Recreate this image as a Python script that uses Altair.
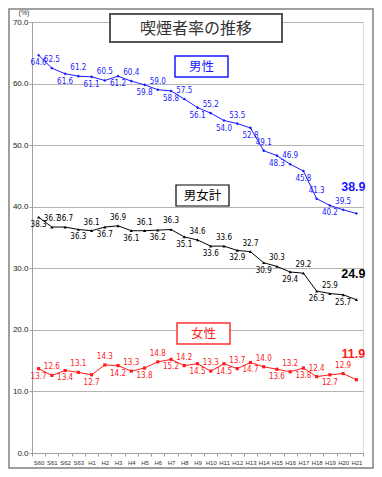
import altair as alt
import pandas as pd

years = ["S60", "S61", "S62", "S63"] + [f"H{i}" for i in range(1, 22)]
male = [64.6, 62.5, 61.6, 61.2, 61.1, 60.5, 61.2, 60.4, 59.8, 59.0, 58.8, 57.5, 56.1,
        55.2, 54.0, 53.5, 52.8, 49.1, 48.3, 46.9, 45.8, 41.3, 40.2, 39.5, 38.9]
total = [38.3, 36.7, 36.7, 36.3, 36.1, 36.7, 36.9, 36.1, 36.1, 36.2, 36.3, 35.1, 34.6,
         33.6, 33.6, 32.9, 32.7, 30.9, 30.3, 29.4, 29.2, 26.3, 25.9, 25.7, 24.9]
female = [13.7, 12.6, 13.4, 13.1, 12.7, 14.3, 14.2, 13.3, 13.8, 14.8, 15.2, 14.2, 14.5,
          13.3, 14.5, 13.7, 14.7, 14.0, 13.6, 13.2, 13.8, 12.4, 12.7, 12.9, 11.9]
series_names = ["男性", "男女計", "女性"]
series_colors = ["#1a1aff", "#000000", "#ff1a1a"]
y_ticks = [0, 10, 20, 30, 40, 50, 60, 70]

rows = []
last = len(years) - 1
for name, vals in zip(series_names, [male, total, female]):
    for i, (yr, v) in enumerate(zip(years, vals)):
        if name == "男女計":
            side = "above" if (i in (1, 2) or (i >= 3 and i % 2 == 0)) else "below"
        else:
            side = "below" if i % 2 == 0 else "above"
        if i == last:
            side = "final"
        rows.append(dict(series=name, year=yr, idx=i, value=v, side=side))
df = pd.DataFrame(rows)

W, H = 331, 431
LABEL_FONT = "Liberation Sans Narrow, DejaVu Sans Condensed, Arial Narrow, Liberation Sans"
JP_FONT = "Noto Sans CJK JP"

color = alt.Color("series:N", scale=alt.Scale(domain=series_names, range=series_colors), legend=None)
xenc = alt.X("year:N", sort=years, bandPosition=0.5,
             scale=alt.Scale(type="band", paddingInner=0, paddingOuter=0),
             axis=alt.Axis(title=None, labelAngle=0, tickBand="extent", labelFontSize=6,
                           labelColor="#333333", labelFont="Liberation Sans",
                           tickSize=3, tickColor="#999999", domainColor="#a0a0a0",
                           labelPadding=3, grid=False))
yenc = alt.Y("value:Q", scale=alt.Scale(domain=[0, 70], nice=False),
             axis=alt.Axis(title=None, values=y_ticks, format=".1f", grid=True,
                           gridColor="#b4b4b4", domainColor="#a0a0a0", tickColor="#a0a0a0",
                           tickSize=3, labelFontSize=8, labelFont="Liberation Sans",
                           labelColor="#222222", labelPadding=1))

base = alt.Chart(df).encode(x=xenc, y=yenc, color=color)

lines = base.mark_line(strokeWidth=1)
points = base.mark_point(filled=True, size=10, opacity=1).encode(
    shape=alt.Shape("series:N", scale=alt.Scale(domain=series_names,
                                                 range=["diamond", "triangle-up", "square"]),
                    legend=None))
above = base.mark_text(fontSize=8, dy=-8, font=LABEL_FONT).encode(
    text=alt.Text("value:Q", format=".1f")).transform_filter(alt.datum.side == "above")
below = base.mark_text(fontSize=8, dy=8, font=LABEL_FONT).encode(
    text=alt.Text("value:Q", format=".1f")).transform_filter(alt.datum.side == "below")
final = base.mark_text(fontSize=12.5, fontWeight="bold", dy=-26, dx=-3,
                       font="Liberation Sans").encode(
    text=alt.Text("value:Q", format=".1f")).transform_filter(alt.datum.side == "final")

one = alt.Data(values=[{"k": 1}])


def box(x1, x2, y1, y2, stroke, sw, label, fs, tcolor):
    r = alt.Chart(one).mark_rect(fill="white", stroke=stroke, strokeWidth=sw).encode(
        x=alt.value(x1), x2=alt.value(x2), y=alt.value(y1), y2=alt.value(y2))
    t = alt.Chart(one).mark_text(text=label, fontSize=fs, font=JP_FONT, color=tcolor,
                                 baseline="middle", align="center").encode(
        x=alt.value((x1 + x2) / 2), y=alt.value((y1 + y2) / 2 + 0.5))
    return [r, t]


# plot origin is at page (32, 22)
annotations = []
annotations += box(78, 250, -8, 20, "#555555", 2, "喫煙者率の推移", 16, "#333333")
annotations += box(143, 196, 34, 55, "#1a1aff", 1.5, "男性", 12.5, "#1a1aff")
annotations += box(144, 197, 163, 184, "#000000", 1.2, "男女計", 12.5, "#000000")
annotations += box(145, 198, 301, 322, "#ff3333", 1.5, "女性", 12.5, "#ff1a1a")

outer = alt.Chart(one).mark_rect(fill=None, stroke="#808080", strokeWidth=1.5).encode(
    x=alt.value(-23), x2=alt.value(341), y=alt.value(-13), y2=alt.value(446))
pct = alt.Chart(one).mark_text(text="(%)", fontSize=7, font="Liberation Sans",
                               color="#333333", baseline="top").encode(
    x=alt.value(-8), y=alt.value(-13))

chart = alt.layer(outer, lines, points, above, below, final, pct, *annotations).properties(
    width=W, height=H,
    padding={"left": 24, "top": 14, "right": 11, "bottom": 16},
    autosize=alt.AutoSizeParams(type="none"),
).configure_view(stroke="#b4b4b4").configure(background="white")

chart.save("out.html", embed_options={"renderer": "svg", "actions": False})
